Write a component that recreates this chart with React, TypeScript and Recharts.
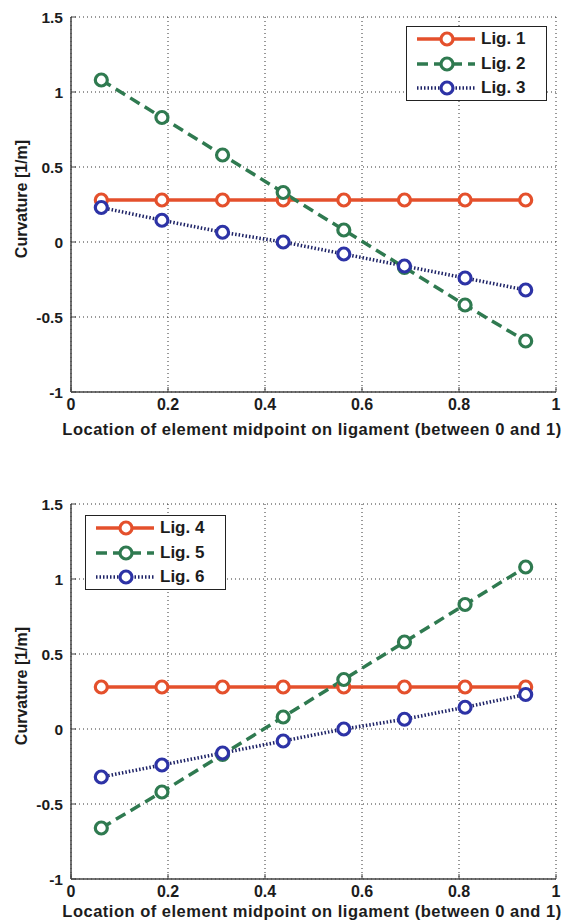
import { LineChart, Line, XAxis, YAxis, CartesianGrid, Legend, Label } from 'recharts'

const X_POS = [0.0625, 0.1875, 0.3125, 0.4375, 0.5625, 0.6875, 0.8125, 0.9375]
const X_TICKS = [0, 0.2, 0.4, 0.6, 0.8, 1]
const Y_TICKS = [-1, -0.5, 0, 0.5, 1, 1.5]

const LIG_1 = [0.28, 0.28, 0.28, 0.28, 0.28, 0.28, 0.28, 0.28]
const LIG_2 = [1.08, 0.83, 0.58, 0.33, 0.08, -0.17, -0.42, -0.66]
const LIG_3 = [0.23, 0.145, 0.065, 0.0, -0.08, -0.16, -0.24, -0.32]

const LIG_4 = [0.28, 0.28, 0.28, 0.28, 0.28, 0.28, 0.28, 0.28]
const LIG_5 = [-0.66, -0.42, -0.17, 0.08, 0.33, 0.58, 0.83, 1.08]
const LIG_6 = [-0.32, -0.24, -0.16, -0.08, 0.0, 0.065, 0.145, 0.23]

const NAMES_TOP = ['Lig. 1', 'Lig. 2', 'Lig. 3']
const NAMES_BOTTOM = ['Lig. 4', 'Lig. 5', 'Lig. 6']

const FONT = '"Liberation Sans", Arial, sans-serif'
const INK = '#1c1c1c'

const STYLES = [
  { color: '#e4502c', dash: undefined as string | undefined, width: 3.5, dotStroke: '#e4502c' },
  { color: '#2f7a50', dash: '11 6', width: 3.5, dotStroke: '#2f7a50' },
  { color: '#1d2266', dash: '1.5 2', width: 3.5, dotStroke: '#2d33a6' },
]

const W = 567
const H = 450

const LegendBox = ({ names }: { names: string[] }) => (
  <div
    style={{
      width: 139, height: 73,
      border: '1.5px solid #222', background: '#fff', boxSizing: 'content-box',
    }}
  >
    {names.map((n, i) => {
      const s = STYLES[i]
      return (
        <div key={n} style={{ display: 'flex', alignItems: 'center', height: 24.5 }}>
          <svg width={72} height={20} style={{ display: 'block' }}>
            <line x1={10} y1={10} x2={68} y2={10} stroke={s.color} strokeWidth={s.width} strokeDasharray={s.dash} />
            <circle cx={40} cy={10} r={6} fill="#fff" stroke={s.dotStroke} strokeWidth={3.2} />
          </svg>
          <span style={{ fontFamily: FONT, fontWeight: 700, fontSize: 17, color: INK, marginLeft: 2 }}>{n}</span>
        </div>
      )
    })}
  </div>
)

const Panel = ({ series, names, legendX, legendY, xLabelY }: {
  series: number[][]; names: string[]; legendX: number; legendY: number; xLabelY: number
}) => {
  const data = X_POS.map((x, i) => ({ x, s0: series[0][i], s1: series[1][i], s2: series[2][i] }))
  return (
    <div style={{ position: 'relative', width: W, height: H }}>
      <LineChart width={W} height={H} data={data} margin={{ top: 17, right: 11, left: 0, bottom: 0 }}>
        <CartesianGrid stroke="#333" strokeDasharray="1 3" strokeWidth={1} />
        <XAxis
          type="number" dataKey="x" domain={[0, 1]} ticks={X_TICKS} height={58}
          axisLine={{ stroke: '#444', strokeWidth: 1.5 }} tickLine={{ stroke: '#444' }} tickSize={-5} tickMargin={12}
          tick={{ fontFamily: FONT, fontWeight: 700, fontSize: 16, fill: INK }}
        >
          <Label
            content={() => (
              <text x={312} y={xLabelY} textAnchor="middle" fontFamily={FONT} fontWeight={700} fontSize={16.5}
                letterSpacing={0.5} fill={INK}>
                Location of element midpoint on ligament (between 0 and 1)
              </text>
            )}
          />
        </XAxis>
        <YAxis
          type="number" domain={[-1, 1.5]} ticks={Y_TICKS} width={71}
          axisLine={{ stroke: '#444', strokeWidth: 1.5 }} tickLine={{ stroke: '#444' }} tickSize={-5} tickMargin={13}
          tick={{ fontFamily: FONT, fontWeight: 700, fontSize: 15.5, fill: INK }}
        >
          <Label
            content={() => (
              <text x={0} y={0} transform={`translate(27, 199) rotate(-90)`} textAnchor="middle"
                fontFamily={FONT} fontWeight={700} fontSize={16} fill={INK}>
                Curvature [1/m]
              </text>
            )}
          />
        </YAxis>
        {STYLES.map((s, i) => (
          <Line
            key={i} dataKey={`s${i}`} name={names[i]} type="linear" isAnimationActive={false}
            stroke={s.color} strokeWidth={s.width} strokeDasharray={s.dash}
            dot={{ r: 6, strokeWidth: 3.2, fill: '#fff', stroke: s.dotStroke, strokeDasharray: '' }}
          />
        ))}
        <Legend
          layout="vertical" align="center" verticalAlign="middle"
          content={() => <LegendBox names={names} />}
          wrapperStyle={{ position: 'absolute', left: legendX, top: legendY, width: 142, height: 76 }}
        />
      </LineChart>
    </div>
  )
}

export default function App() {
  return (
    <div style={{ position: 'absolute', left: 0, top: 0, width: W, height: 924, background: '#fff' }}>
      <div style={{ position: 'absolute', left: 0, top: 0 }}>
        <Panel series={[LIG_1, LIG_2, LIG_3]} names={NAMES_TOP} legendX={406} legendY={26} xLabelY={435} />
      </div>
      <div style={{ position: 'absolute', left: 0, top: 487 }}>
        <Panel series={[LIG_4, LIG_5, LIG_6]} names={NAMES_BOTTOM} legendX={85} legendY={28} xLabelY={430} />
      </div>
    </div>
  )
}
